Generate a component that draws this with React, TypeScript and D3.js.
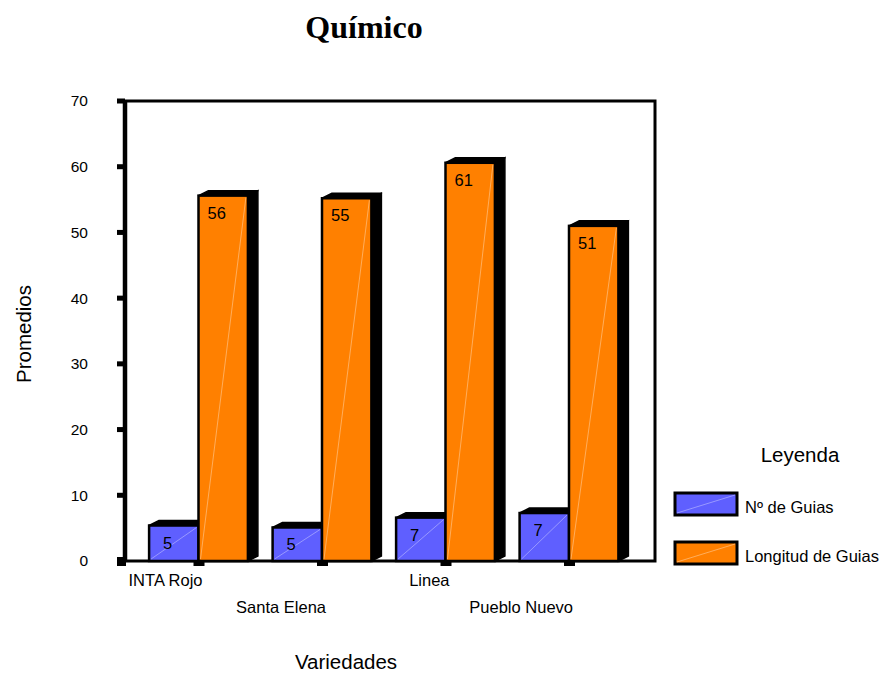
import React from "react";
import * as d3 from "d3";

// Variedades and their mean values
const categories = ["INTA Rojo", "Santa Elena", "Linea", "Pueblo Nuevo"];
const seriesNames = ["Nº de Guias", "Longitud de Guias"];
const numGuias = [5.4, 5.1, 6.6, 7.3];
const longitudGuias = [55.6, 55.2, 60.6, 51.0];
const yTicks = [0, 10, 20, 30, 40, 50, 60, 70];
const colors = ["#5f5fff", "#ff8000"];

const W = 887;
const H = 675;
const plot = { left: 125, right: 655, top: 101, bottom: 561 };
const depthX = 10;
const depthY = -5;
const labelInset = [14, 9];

const FONT = "Liberation Sans, Arial, sans-serif";

export default function App() {
  const y = d3.scaleLinear().domain([0, 70]).range([plot.bottom, plot.top]);
  const x = d3
    .scaleBand<string>()
    .domain(categories)
    .range([136.75, 630.75])
    .paddingInner(0)
    .paddingOuter(0);
  const inner = d3
    .scaleBand<string>()
    .domain(seriesNames)
    .range([x.bandwidth() * 0.1, x.bandwidth() * 0.9]);
  const series = [numGuias, longitudGuias];
  const fmt = d3.format(".0f");

  const bars: React.ReactNode[] = [];
  categories.forEach((cat, ci) => {
    series.forEach((vals, si) => {
      const v = vals[ci];
      const x0 = (x(cat) ?? 0) + (inner(seriesNames[si]) ?? 0);
      const x1 = x0 + inner.bandwidth();
      const top = y(v);
      const base = y(0);
      const topFace = `M${x0},${top}L${x0 + depthX},${top + depthY}L${x1 + depthX},${top + depthY}L${x1},${top}Z`;
      const sideFace = `M${x1},${top}L${x1 + depthX},${top + depthY}L${x1 + depthX},${base + depthY}L${x1},${base}Z`;
      bars.push(
        <g key={`${cat}-${si}`}>
          <path d={topFace} fill="#000" stroke="#000" strokeWidth={1.5} strokeLinejoin="round" />
          <path d={sideFace} fill="#000" stroke="#000" strokeWidth={1.5} />
          <rect
            x={x0}
            y={top}
            width={x1 - x0}
            height={base - top}
            fill={colors[si]}
            stroke="#000"
            strokeWidth={2.5}
          />
          <line
            x1={x0 + 2}
            y1={base - 2}
            x2={x1 - 2}
            y2={top + 2}
            stroke="#fff"
            strokeOpacity={0.45}
            strokeWidth={0.8}
          />
          <text
            x={x0 + labelInset[si]}
            y={top + 23}
            fontFamily={FONT}
            fontSize={16.5}
            fill="#000"
          >
            {fmt(v)}
          </text>
        </g>
      );
    });
  });

  return (
    <svg
      width={W}
      height={H}
      style={{ position: "absolute", left: 0, top: 0, background: "#fff" }}
    >
      <rect x={0} y={0} width={W} height={H} fill="#fff" />
      {/* Title */}
      <text
        x={364}
        y={38}
        textAnchor="middle"
        fontFamily="Liberation Serif, Times New Roman, serif"
        fontWeight="bold"
        fontSize={32}
      >
        Químico
      </text>

      {/* Plot frame */}
      <rect
        x={plot.left}
        y={plot.top}
        width={plot.right - plot.left}
        height={plot.bottom - plot.top}
        fill="none"
        stroke="#000"
        strokeWidth={3}
      />
      <line x1={plot.left} y1={plot.top} x2={plot.left} y2={plot.bottom} stroke="#000" strokeWidth={4.5} />

      {/* Y axis ticks and labels */}
      {yTicks.map((t) => (
        <g key={t}>
          <rect x={117} y={y(t) - 2.5} width={8} height={5} fill="#000" />
          <text
            x={88}
            y={y(t)}
            dy="0.35em"
            textAnchor="end"
            fontFamily={FONT}
            fontSize={15.5}
          >
            {t}
          </text>
        </g>
      ))}
      <rect x={117} y={plot.bottom - 4} width={9} height={9} fill="#000" />

      {/* Bars */}
      {bars}

      {/* X axis ticks and labels */}
      {categories.map((c, i) => {
        const cx = (x(c) ?? 0) + x.bandwidth() / 2;
        return (
          <g key={c}>
            <rect x={cx - 5} y={plot.bottom} width={11} height={5} fill="#000" />
            <text
              x={cx + 4}
              y={i % 2 === 0 ? 586 : 613}
              textAnchor="end"
              fontFamily={FONT}
              fontSize={16.5}
            >
              {c}
            </text>
          </g>
        );
      })}

      {/* Axis titles */}
      <text
        x={346}
        y={669}
        textAnchor="middle"
        fontFamily={FONT}
        fontSize={20.5}
      >
        Variedades
      </text>
      <text
        transform={`translate(31,334) rotate(-90)`}
        textAnchor="middle"
        fontFamily={FONT}
        fontSize={20.5}
      >
        Promedios
      </text>

      {/* Legend */}
      <text x={800} y={462} textAnchor="middle" fontFamily={FONT} fontSize={20.5}>
        Leyenda
      </text>
      {seriesNames.map((s, i) => {
        const ly = 493 + i * 49;
        return (
          <g key={s}>
            <rect x={675} y={ly} width={62} height={22} fill={colors[i]} stroke="#000" strokeWidth={3} />
            <line
              x1={677}
              y1={ly + 20}
              x2={735}
              y2={ly + 2}
              stroke="#fff"
              strokeOpacity={0.45}
              strokeWidth={0.8}
            />
            <text x={745} y={ly + 20} fontFamily={FONT} fontSize={16.5}>
              {s}
            </text>
          </g>
        );
      })}
    </svg>
  );
}
